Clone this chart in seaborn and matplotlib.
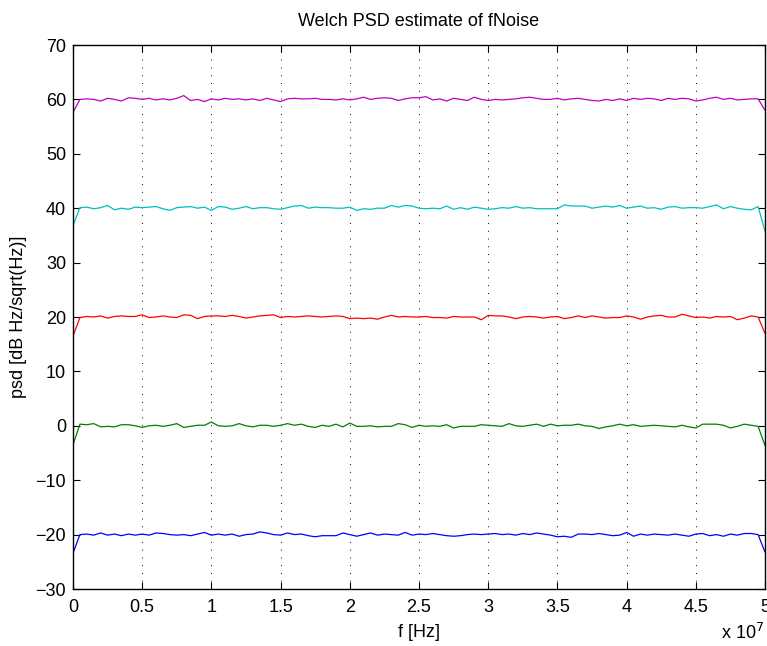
import numpy as np
import pandas as pd
import matplotlib
matplotlib.use("Agg")
import matplotlib.pyplot as plt
import seaborn as sns

# ---- data ----
freq_hz = np.linspace(0, 5e7, 101)

psd_blue = [-23.4, -20.0, -19.9, -20.1, -19.7, -20.1, -19.9, -20.2, -19.9, -20.1,
            -19.9, -20.1, -19.7, -19.8, -20.0, -20.1, -20.0, -20.2, -19.9, -19.6,
            -20.1, -19.9, -20.1, -19.9, -20.3, -20.0, -19.9, -19.5, -19.7, -20.0,
            -20.1, -19.7, -20.0, -19.9, -20.2, -20.4, -20.2, -20.2, -20.2, -19.7,
            -20.0, -20.3, -20.0, -19.7, -20.1, -19.9, -20.0, -20.1, -19.6, -20.1,
            -19.9, -20.0, -19.8, -20.0, -20.2, -20.3, -20.2, -20.0, -19.9, -20.0,
            -19.9, -19.8, -20.0, -19.9, -20.1, -19.8, -20.0, -19.7, -19.9, -20.1,
            -20.4, -20.3, -20.5, -19.9, -19.9, -20.0, -19.8, -20.0, -20.2, -20.1,
            -19.6, -20.3, -19.9, -20.1, -19.9, -20.0, -20.1, -19.9, -20.1, -20.3,
            -19.9, -19.8, -20.2, -20.0, -20.3, -19.9, -20.1, -19.8, -19.8, -20.0,
            -23.2]

psd_green = [-3.5, 0.3, 0.2, 0.4, -0.2, -0.1, -0.2, 0.2, 0.2, 0.0,
             -0.3, 0.0, 0.1, -0.1, 0.1, 0.4, -0.3, -0.1, 0.1, 0.1,
             0.7, 0.0, -0.1, 0.0, 0.4, 0.0, -0.2, 0.1, 0.1, -0.1,
             0.1, 0.4, 0.1, 0.3, -0.1, -0.3, 0.1, -0.1, 0.3, -0.2,
             0.5, -0.1, -0.1, 0.0, -0.2, -0.1, -0.1, 0.4, 0.2, -0.3,
             0.1, -0.1, 0.0, -0.1, 0.2, -0.4, -0.1, -0.1, -0.1, 0.2,
             0.1, 0.0, -0.1, 0.4, 0.0, -0.1, 0.1, 0.3, -0.1, 0.3,
             0.0, 0.1, 0.1, 0.3, 0.0, -0.1, -0.5, -0.2, 0.0, 0.3,
             0.0, 0.2, -0.1, 0.0, 0.1, 0.0, -0.1, -0.2, 0.1, -0.2,
             -0.4, 0.3, 0.3, 0.3, 0.1, -0.4, -0.1, 0.3, 0.1, -0.1,
             -3.6]

psd_red = [16.5, 19.9, 20.1, 20.0, 20.2, 19.8, 20.1, 20.2, 20.1, 20.1,
           20.4, 19.9, 20.0, 20.2, 20.0, 19.9, 20.4, 20.3, 19.7, 20.1,
           20.2, 20.2, 20.1, 20.3, 20.1, 19.8, 20.0, 20.2, 20.3, 20.4,
           19.9, 20.1, 20.0, 20.1, 20.2, 20.1, 20.0, 20.1, 20.2, 20.1,
           19.7, 19.8, 19.7, 19.8, 19.6, 20.0, 20.3, 20.0, 20.1, 20.0,
           20.0, 20.1, 19.9, 19.9, 19.8, 20.1, 20.0, 20.0, 20.0, 19.5,
           20.3, 20.2, 20.2, 20.0, 19.7, 20.0, 20.1, 20.0, 19.8, 20.0,
           20.1, 19.7, 19.9, 20.2, 19.9, 20.2, 20.0, 19.8, 19.9, 19.9,
           20.2, 20.0, 19.6, 20.0, 20.2, 20.3, 20.0, 20.0, 20.5, 20.2,
           19.9, 20.0, 19.8, 20.1, 20.0, 20.1, 19.5, 19.8, 20.2, 20.0,
           17.0]

psd_cyan = [36.8, 40.1, 40.2, 39.9, 40.1, 40.5, 39.7, 40.0, 39.8, 40.2,
            40.1, 40.2, 40.3, 39.9, 39.6, 40.1, 40.2, 40.3, 40.0, 40.2,
            39.6, 40.3, 40.2, 39.8, 40.0, 40.3, 39.9, 40.1, 40.1, 39.9,
            39.8, 40.1, 40.4, 40.5, 40.0, 40.2, 40.1, 40.1, 40.0, 40.0,
            40.2, 39.6, 39.9, 39.8, 40.0, 40.0, 40.5, 40.2, 40.5, 40.4,
            40.0, 39.9, 40.0, 39.9, 40.4, 39.8, 40.1, 39.8, 40.2, 40.0,
            39.8, 39.9, 40.1, 40.0, 40.3, 40.0, 40.1, 39.9, 39.9, 39.9,
            39.9, 40.6, 40.4, 40.4, 40.4, 40.0, 40.2, 40.4, 40.2, 40.5,
            40.0, 40.2, 40.4, 40.0, 40.1, 39.8, 40.2, 40.3, 40.0, 40.1,
            40.1, 40.0, 40.3, 40.6, 39.9, 40.3, 40.0, 39.8, 39.7, 40.3,
            35.8]

psd_magenta = [57.6, 60.0, 60.1, 60.0, 59.7, 60.2, 60.0, 59.7, 60.3, 60.2,
               60.0, 60.2, 59.9, 60.1, 59.9, 60.2, 60.7, 59.8, 60.0, 59.6,
               60.1, 59.9, 60.2, 60.0, 60.1, 59.9, 60.1, 59.8, 60.2, 59.9,
               59.6, 60.1, 60.2, 60.1, 60.1, 60.2, 60.0, 60.0, 59.9, 60.1,
               59.9, 60.1, 60.4, 60.0, 60.2, 60.3, 60.2, 59.8, 60.1, 60.3,
               60.3, 60.5, 59.9, 60.1, 59.7, 60.2, 60.0, 59.8, 60.4, 60.0,
               59.8, 60.0, 59.9, 60.0, 60.1, 60.3, 60.4, 60.2, 60.0, 60.0,
               60.2, 59.9, 60.1, 60.2, 60.0, 59.8, 59.7, 60.0, 59.8, 60.1,
               59.8, 60.2, 60.0, 60.2, 60.1, 59.8, 60.2, 60.0, 60.2, 60.1,
               59.7, 59.9, 60.2, 60.4, 60.0, 60.2, 59.9, 60.0, 60.1, 60.1,
               58.0]

series_names = ["blue", "green", "red", "cyan", "magenta"]
series_values = [psd_blue, psd_green, psd_red, psd_cyan, psd_magenta]
series_colors = [(0, 0, 1), (0, 0.5, 0), (1, 0, 0), (0, 0.75, 0.75), (0.75, 0, 0.75)]

xtick_values = [0, 0.5e7, 1e7, 1.5e7, 2e7, 2.5e7, 3e7, 3.5e7, 4e7, 4.5e7, 5e7]
xtick_labels = ["0", "0.5", "1", "1.5", "2", "2.5", "3", "3.5", "4", "4.5", "5"]
ytick_values = [-30, -20, -10, 0, 10, 20, 30, 40, 50, 60, 70]

df = pd.concat(
    [pd.DataFrame({"f": freq_hz, "psd": v, "series": n})
     for n, v in zip(series_names, series_values)],
    ignore_index=True,
)

# ---- style ----
sns.set_theme(style="white")
plt.rcParams["font.family"] = ["Liberation Sans", "DejaVu Sans"]
plt.rcParams["axes.unicode_minus"] = True

W, H = 767, 646
fig = plt.figure(figsize=(W / 100, H / 100), dpi=100)
ax = fig.add_axes([73 / W, 1 - 589 / H, (765 - 73) / W, (589 - 45) / H])

sns.lineplot(data=df, x="f", y="psd", hue="series", hue_order=series_names,
             palette=series_colors, legend=False, linewidth=0.9, ax=ax,
             estimator=None, sort=False)

ax.set_xlim(0, 5e7)
ax.set_ylim(-30, 70)
ax.set_xticks(xtick_values)
ax.set_xticklabels(xtick_labels)
ax.set_yticks(ytick_values)

ax.xaxis.grid(True, color="black", linestyle=(0, (1, 7)), linewidth=0.7)
ax.yaxis.grid(False)

for s in ax.spines.values():
    s.set_color("black")
    s.set_linewidth(1.0)

ax.tick_params(axis="both", which="major", direction="in", length=5, width=0.8,
               color="black", labelsize=13, labelcolor="black",
               top=True, right=True, bottom=True, left=True)
ax.tick_params(axis="x", pad=7)
ax.tick_params(axis="y", pad=5)

ax.set_xlabel("f [Hz]", fontsize=13, color="black", labelpad=6)
ax.set_ylabel("psd [dB Hz/sqrt(Hz)]", fontsize=13, color="black", labelpad=6)
ax.set_title("Welch PSD estimate of fNoise", fontsize=13, color="black", pad=14)

fig.text(721 / W, 1 - 633 / H, r"x 10$^{7}$", fontsize=13, ha="left", va="center",
         color="black")

fig.savefig("out.png", dpi=100, facecolor="white")
